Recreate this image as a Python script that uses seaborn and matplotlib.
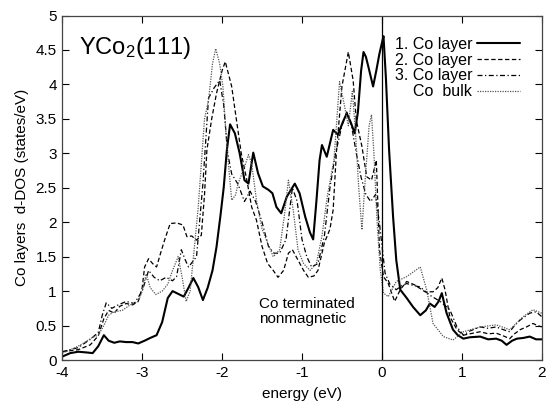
import numpy as np
import pandas as pd
import seaborn as sns
import matplotlib
matplotlib.use("Agg")
import matplotlib.pyplot as plt

# ---- data ----
x1 = [-4.0, -3.9, -3.8, -3.7, -3.62, -3.55, -3.48, -3.42, -3.35, -3.28, -3.2, -3.12, -3.05, -2.97, -2.9,
      -2.82, -2.75, -2.68, -2.62, -2.55, -2.48, -2.42, -2.36, -2.3, -2.24, -2.18, -2.12, -2.07, -2.02,
      -1.98, -1.94, -1.9, -1.84, -1.78, -1.72, -1.67, -1.61, -1.55, -1.49, -1.42, -1.37, -1.32, -1.26,
      -1.19, -1.09, -1.03, -0.96, -0.9, -0.86, -0.82, -0.78, -0.75, -0.69, -0.61, -0.55, -0.49, -0.44,
      -0.39, -0.34, -0.3, -0.26, -0.23, -0.2, -0.17, -0.11, -0.07, -0.03, 0.0, 0.02, 0.05, 0.09, 0.14,
      0.18, 0.23, 0.31, 0.39, 0.48, 0.55, 0.6, 0.66, 0.71, 0.75, 0.81, 0.89, 0.95, 1.02, 1.1, 1.23,
      1.33, 1.43, 1.5, 1.56, 1.63, 1.69, 1.77, 1.85, 1.93, 2.0]
y1 = [0.05, 0.1, 0.12, 0.11, 0.1, 0.2, 0.36, 0.28, 0.25, 0.27, 0.26, 0.26, 0.24, 0.28, 0.32,
      0.36, 0.55, 0.9, 1.0, 0.96, 0.92, 1.05, 1.19, 1.06, 0.87, 1.05, 1.3, 1.64, 2.1,
      2.5, 3.05, 3.42, 3.29, 3.0, 2.61, 2.56, 3.01, 2.71, 2.52, 2.47, 2.42, 2.22, 2.13,
      2.37, 2.56, 2.42, 2.08, 1.85, 1.75, 2.3, 2.9, 3.12, 2.95, 3.34, 3.27, 3.45, 3.58,
      3.45, 3.29, 3.6, 4.2, 4.47, 4.4, 4.26, 3.97, 4.2, 4.45, 4.6, 4.7, 4.1, 3.05, 2.08,
      1.45, 1.02, 0.9, 0.77, 0.65, 0.72, 0.82, 0.77, 0.85, 0.97, 0.68, 0.44, 0.36, 0.31, 0.33, 0.34,
      0.3, 0.31, 0.28, 0.22, 0.28, 0.31, 0.32, 0.34, 0.3, 0.3]

x2 = [-4.0, -3.8, -3.65, -3.55, -3.48, -3.42, -3.35, -3.28, -3.2, -3.12, -3.05, -3.0, -2.97, -2.92,
      -2.87, -2.82, -2.77, -2.72, -2.65, -2.57, -2.49, -2.44, -2.38, -2.32, -2.26, -2.22, -2.19, -2.13,
      -2.07, -2.0, -1.96, -1.88, -1.82, -1.76, -1.69, -1.63, -1.57, -1.5, -1.43, -1.36, -1.3, -1.23,
      -1.17, -1.12, -1.05, -0.98, -0.92, -0.85, -0.8, -0.72, -0.65, -0.61, -0.57, -0.5, -0.42, -0.36,
      -0.32, -0.25, -0.19, -0.13, -0.07, -0.03, 0.02, 0.08, 0.16, 0.23, 0.31, 0.41, 0.54, 0.64, 0.7,
      0.75, 0.79, 0.85, 0.94, 1.02, 1.1, 1.23, 1.33, 1.43, 1.52, 1.6, 1.66, 1.73, 1.81, 1.89, 1.95, 2.0]
y2 = [0.12, 0.15, 0.22, 0.35, 0.6, 0.72, 0.68, 0.78, 0.82, 0.8, 0.85, 1.05, 1.35, 1.47,
      1.4, 1.35, 1.55, 1.74, 1.98, 1.99, 1.96, 1.79, 1.8, 1.74, 1.81, 2.4, 3.05, 3.5,
      3.87, 4.2, 4.33, 3.97, 3.48, 3.0, 2.61, 2.22, 2.03, 1.65, 1.4, 1.3, 1.2, 1.3,
      1.55, 1.6, 1.45, 1.3, 1.2, 1.22, 1.3, 1.7, 1.9, 2.18, 3.0, 3.97, 4.47, 4.06,
      3.48, 3.1, 2.66, 2.61, 2.9, 1.6, 1.21, 1.11, 0.85, 1.02, 1.14, 1.09, 0.99, 0.99, 1.05,
      1.19, 1.02, 0.63, 0.44, 0.36, 0.38, 0.41, 0.38, 0.39, 0.35, 0.31, 0.38, 0.44, 0.48, 0.53, 0.5, 0.48]

x3 = [-4.0, -3.8, -3.65, -3.55, -3.5, -3.45, -3.38, -3.3, -3.2, -3.1, -3.0, -2.92, -2.85, -2.78, -2.7,
      -2.62, -2.57, -2.51, -2.46, -2.42, -2.32, -2.24, -2.17, -2.1, -2.03, -1.98, -1.93, -1.88, -1.8,
      -1.72, -1.65, -1.58, -1.5, -1.42, -1.35, -1.28, -1.2, -1.12, -1.06, -1.0, -0.94, -0.88, -0.8,
      -0.72, -0.65, -0.58, -0.5, -0.44, -0.38, -0.32, -0.26, -0.2, -0.14, -0.08, -0.03, 0.04, 0.1, 0.18,
      0.25, 0.31, 0.4, 0.48, 0.6, 0.73, 0.85, 0.94, 1.02, 1.1, 1.23, 1.33, 1.43, 1.52, 1.6, 1.66, 1.73,
      1.85, 1.93, 2.0]
y3 = [0.12, 0.18, 0.3, 0.4, 0.65, 0.83, 0.75, 0.8, 0.85, 0.82, 1.0, 1.3, 1.2, 1.15, 1.2,
      1.15, 1.21, 1.6, 1.45, 1.35, 1.5, 2.56, 3.8, 3.95, 4.06, 3.7, 3.0, 2.7, 2.55,
      2.3, 2.45, 2.3, 2.0, 1.65, 1.55, 1.55, 1.75, 2.5, 2.3, 1.75, 1.5, 1.35, 1.4,
      1.8, 2.5, 3.0, 3.4, 3.6, 3.4, 3.0, 2.65, 2.4, 2.3, 2.4, 1.98, 1.26, 1.1, 1.02,
      1.08, 1.11, 1.08, 1.06, 0.94, 0.85, 0.73, 0.48, 0.36, 0.42, 0.48, 0.46, 0.48, 0.44, 0.41, 0.5, 0.58,
      0.68, 0.7, 0.63]

x4 = [-4.0, -3.9, -3.8, -3.7, -3.62, -3.55, -3.48, -3.42, -3.35, -3.25, -3.15, -3.05, -3.0, -2.95, -2.9,
      -2.83, -2.75, -2.68, -2.62, -2.55, -2.5, -2.45, -2.4, -2.35, -2.3, -2.22, -2.17, -2.12, -2.08,
      -2.03, -1.99, -1.94, -1.88, -1.83, -1.8, -1.72, -1.67, -1.63, -1.57, -1.5, -1.43, -1.36, -1.28,
      -1.22, -1.17, -1.11, -1.05, -0.98, -0.9, -0.82, -0.75, -0.68, -0.6, -0.53, -0.47, -0.42, -0.37,
      -0.33, -0.29, -0.25, -0.21, -0.16, -0.13, -0.1, -0.06, -0.02, 0.02, 0.08, 0.18, 0.31, 0.48, 0.56, 0.64,
      0.77, 0.89, 1.02, 1.23, 1.43, 1.6, 1.77, 1.89, 2.0]
y4 = [0.1, 0.15, 0.2, 0.27, 0.33, 0.36, 0.5, 0.65, 0.7, 0.72, 0.8, 0.85, 1.0, 1.25, 1.05,
      0.95, 1.0, 1.1, 1.3, 1.5, 1.2, 0.85, 1.0, 1.6, 2.2, 3.5, 3.77, 4.3, 4.52,
      4.3, 3.97, 3.1, 2.32, 2.4, 2.56, 2.8, 2.98, 2.85, 2.32, 1.9, 1.7, 1.5, 1.6,
      2.1, 2.61, 2.18, 1.6, 1.4, 1.3, 1.4, 1.8, 2.4, 2.9, 4.04, 3.7, 3.4, 3.9,
      3.3, 2.5, 1.89, 2.6, 3.4, 3.56, 3.0, 2.0, 1.3, 0.97, 0.92, 1.14, 1.21, 1.35, 1.02, 0.53,
      0.34, 0.29, 0.41, 0.48, 0.51, 0.44, 0.63, 0.73, 0.68]

labels = ["1. Co layer", "2. Co layer", "3. Co layer", "Co  bulk"]
xticks = [-4, -3, -2, -1, 0, 1, 2]
yticks = [0, 0.5, 1, 1.5, 2, 2.5, 3, 3.5, 4, 4.5, 5]

# ---- style ----
sns.set_theme(style="ticks")
plt.rcParams['font.family'] = ['Liberation Sans', 'DejaVu Sans']
plt.rcParams['axes.unicode_minus'] = False
plt.rcParams['text.color'] = 'black'
plt.rcParams['axes.labelcolor'] = 'black'
plt.rcParams['mathtext.fontset'] = 'custom'
plt.rcParams['mathtext.rm'] = 'Liberation Sans'
plt.rcParams['mathtext.default'] = 'regular'

fig = plt.figure(figsize=(5.46, 4.09), dpi=100)
ax = fig.add_axes([0.1141, 0.1198, 0.8780, 0.8423])

series = [(x1, y1), (x2, y2), (x3, y3), (x4, y4)]
styles = [dict(color="black", lw=1.5, ls="-"),
          dict(color="black", lw=0.9, ls=(0, (3.5, 2))),
          dict(color="black", lw=0.9, ls=(0, (4, 2, 1, 2))),
          dict(color="#555555", lw=0.9, ls=(0, (1, 1)))]
for (xs, ys), lab, st in zip(series, labels, styles):
    df = pd.DataFrame({"energy": xs, "dos": ys})
    sns.lineplot(data=df, x="energy", y="dos", ax=ax, label=lab, estimator=None,
                 sort=False, color=st["color"], linewidth=st["lw"], linestyle=st["ls"])

ax.axvline(0, color="black", lw=0.9)

ax.set_xlim(-4, 2)
ax.set_ylim(0, 5)
ax.set_xticks(xticks)
ax.set_xticklabels([str(t) for t in xticks])
ax.set_yticks(yticks)
ax.set_yticklabels([("%g" % t) for t in yticks])
ax.tick_params(direction="in", length=5, width=0.8, top=True, right=True,
               labelsize=11, colors="black", pad=4)
for s in ax.spines.values():
    s.set_color("#444444")
    s.set_linewidth(0.9)

ax.set_xlabel("energy (eV)", fontsize=11, labelpad=5)
ax.set_ylabel("Co layers  d-DOS (states/eV)", fontsize=11, labelpad=5)

ax.text(0.035, 0.905, r"YCo$_2$(111)", transform=ax.transAxes, fontsize=17,
        va="center", ha="left")
ax.text(0.41, 0.14, "Co terminated\nnonmagnetic", transform=ax.transAxes,
        fontsize=11, va="center", ha="left", linespacing=1.05)

leg = ax.legend(loc="upper right", frameon=False, markerfirst=False, fontsize=11.5,
                handlelength=2.7, labelspacing=0.05, borderaxespad=0.4, handletextpad=0.3,
                bbox_to_anchor=(0.982, 0.975))

fig.savefig("out.png", dpi=100)
